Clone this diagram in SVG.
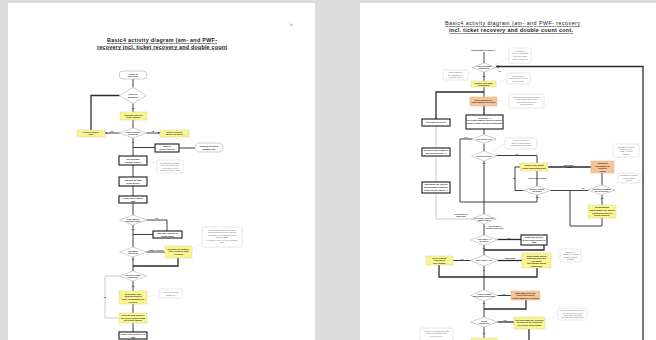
<svg xmlns="http://www.w3.org/2000/svg" width="656" height="340" viewBox="0 0 656 340">
  <style>
    .bg{fill:#dcdcdc}
    .page{fill:#ffffff}
    .act{fill:#ffffff;stroke:#1a1a1a;stroke-width:1.1}
    .yel{fill:#fbf590;stroke:#d8d39a;stroke-width:0.5}
    .org{fill:#f8c599;stroke:#e0b08a;stroke-width:0.5}
    .dec{fill:#ffffff;stroke:#a0a0a0;stroke-width:0.5}
    .note{fill:#ffffff;stroke:#cfcfcf;stroke-width:0.5}
    .term{fill:#ffffff;stroke:#9a9a9a;stroke-width:0.5}
    .ln{fill:none;stroke:#2a2a2a;stroke-width:0.9}
    .bold{fill:none;stroke:#2a2a2a;stroke-width:1.3}
    .thin{fill:none;stroke:#a8a8a8;stroke-width:0.6}
    .dash{fill:none;stroke:#c4c4c4;stroke-width:0.4;stroke-dasharray:1 0.8}
    text{font-family:"Liberation Sans",Arial,sans-serif;fill:#222}
    .t{font-size:2.2px;text-anchor:middle;font-weight:bold;fill:#1a1a1a}
    .tn{font-size:1.9px;text-anchor:middle;fill:#666}
    .lb{font-size:1.9px;text-anchor:middle;fill:#222;font-weight:bold}
    .title{font-size:5.4px;text-anchor:middle;text-decoration:underline;fill:#1a1a1a}
  </style>
  <defs>
    <marker id="ah" viewBox="0 0 6 6" refX="5.5" refY="3" markerWidth="2.2" markerHeight="2.2" orient="auto">
      <path d="M0,0 L6,3 L0,6 z" fill="#2a2a2a"/>
    </marker>
  </defs>

  <!-- background and the two sheets -->
  <rect class="bg" x="0" y="0" width="656" height="340"/>
  <rect class="page" x="8" y="3" width="307" height="337"/>
  <rect class="page" x="360" y="3" width="296" height="337"/>

  <!-- ===== sheet 1 ===== -->
  <text x="290" y="26" style="font-size:3px;fill:#555">lu</text>
  <text class="title" x="162" y="42" textLength="110" font-weight="bold">Basic4 activity diagram (am- and PWF-</text>
  <text class="title" x="162" y="48.5" textLength="130" font-weight="bold">recovery incl. ticket recovery and double count</text>

  <g id="connectors-1">
    <path class="ln" d="M133,79 V87.5"/>
    <path class="ln" d="M133,103.5 V112"/>
    <path class="ln" d="M133,120 V128"/>
    <path class="bold" d="M119.5,95.5 H91 V130"/>
    <path class="ln" d="M119.5,133 H105" marker-end="url(#ah)"/>
    <path class="ln" d="M146.5,133 H160" marker-end="url(#ah)"/>
    <path class="ln" d="M133,138 V156"/>
    <path class="ln" d="M133,147.5 H155"/>
    <path class="ln" d="M179,148 H195"/>
    <path class="ln" d="M133,165 V177"/>
    <path class="ln" d="M133,186 V196"/>
    <path class="ln" d="M133,203 V215"/>
    <path class="ln" d="M146.5,220 H167 V231"/>
    <path class="ln" d="M153,234.5 H133"/>
    <path class="ln" d="M133,225 V247"/>
    <path class="ln" d="M146.5,252 H165"/>
    <path class="bold" d="M178,258 V266 H133"/>
    <path class="ln" d="M133,257 V271"/>
    <path class="thin" d="M119.5,276 H105 V318 H119"/>
    <path class="ln" d="M133,281 V291"/>
    <path class="ln" d="M133,304 V313"/>
    <path class="ln" d="M133,323 V340"/>
    <path class="dash" d="M147,162 L157,163"/>
    <path class="dash" d="M192,250 L202,243"/>
    <path class="dash" d="M147,297 L159,294"/>
  </g>

  <g id="s1-start"><rect class="term" x="119" y="71" width="28" height="8" rx="4"/><text class="t" x="133" y="74.6">Pause at</text><text class="t" x="133" y="77.4">start state</text></g>
  <g id="s1-d1"><polygon class="dec" points="133,87.5 146.5,95.5 133,103.5 119.5,95.5"/><text class="t" x="133" y="95">Ticket ctr</text><text class="t" x="133" y="97.6">available?</text></g>
  <text class="lb" x="133" y="108.5">yes</text>
  <g id="s1-y1"><rect class="yel" x="120" y="112" width="27" height="8"/><text class="t" x="133.5" y="115.5">Request recovery</text><text class="t" x="133.5" y="118.2">ticket number</text></g>
  <g id="s1-d2"><polygon class="dec" points="133,128 146.5,133 133,138 119.5,133"/><text class="t" x="133" y="132.6">Ticket number</text><text class="t" x="133" y="135">received?</text></g>
  <text class="lb" x="112" y="131.5">yes</text>
  <text class="lb" x="153" y="132.3">no</text>
  <g id="s1-y2"><rect class="yel" x="77" y="130" width="28" height="7"/><text class="t" x="91" y="132.9">Ticket recovery</text><text class="t" x="91" y="135.4">done</text></g>
  <g id="s1-y3"><rect class="yel" x="160" y="130" width="29" height="7"/><text class="t" x="174.5" y="132.9">Ticket recovery</text><text class="t" x="174.5" y="135.4">failed (no ticket)</text></g>
  <text class="lb" x="133" y="142.5">no</text>
  <g id="s1-b1"><rect class="act" x="155" y="144" width="24" height="8"/><text class="t" x="167" y="147.3">Wait for</text><text class="t" x="167" y="150">ticket recovery</text></g>
  <g id="s1-t1"><rect class="term" x="195" y="143" width="28" height="9" rx="4.5"/><text class="t" x="209" y="147">Start am-recovery</text><text class="t" x="209" y="149.8">without PWF</text></g>
  <g id="s1-a1"><rect class="act" x="119" y="156" width="28" height="9"/><text class="t" x="133" y="159.9">Set message</text><text class="t" x="133" y="162.6">counter (ticket)</text></g>
  <g id="s1-n1"><rect class="note" x="157" y="160" width="26" height="13" rx="1.5"/><text class="tn" x="170" y="163.5">The message counter is</text><text class="tn" x="170" y="166">set to the ticket value</text><text class="tn" x="170" y="168.5">of the last received</text><text class="tn" x="170" y="171">message before restart</text></g>
  <g id="s1-a2"><rect class="act" x="119" y="177" width="28" height="9"/><text class="t" x="133" y="180.9">Initialise all data</text><text class="t" x="133" y="183.6">of the device</text></g>
  <g id="s1-a3"><rect class="act" x="119" y="196" width="28" height="7"/><text class="t" x="133" y="199">Send PWF request</text><text class="t" x="133" y="201.5">(am)</text></g>
  <g id="s1-d3"><polygon class="dec" points="133,215 146.5,220 133,225 119.5,220"/><text class="t" x="133" y="219.5">PWF data in</text><text class="t" x="133" y="222">system ready?</text></g>
  <text class="lb" x="157" y="219.3">no</text>
  <text class="lb" x="133" y="229.6">yes</text>
  <g id="s1-b2"><rect class="act" x="153" y="231" width="29" height="7"/><text class="t" x="167.5" y="234">Set PWF request to</text><text class="t" x="167.5" y="236.5">repeat mode</text></g>
  <g id="s1-d4"><polygon class="dec" points="133,247 146.5,252 133,257 119.5,252"/><text class="t" x="133" y="251.5">Message</text><text class="t" x="133" y="254">received?</text></g>
  <text class="lb" x="156" y="251.3">answer received</text>
  <g id="s1-y4"><rect class="yel" x="165" y="246" width="27" height="12"/><text class="t" x="178.5" y="249.5">Evaluate the answer;</text><text class="t" x="178.5" y="252.2">save recovery data</text><text class="t" x="178.5" y="254.9">in device</text></g>
  <g id="s1-n2"><rect class="note" x="202" y="227" width="40" height="20" rx="2"/><text class="tn" x="222" y="230.5">The answered data are checked</text><text class="tn" x="222" y="233">and applied to the device after the</text><text class="tn" x="222" y="235.5">consistency and plausibility check</text><text class="tn" x="222" y="238">was successful.</text><text class="tn" x="222" y="240.5">All objects in PWF/AM, also temporary</text><text class="tn" x="222" y="243">data.</text></g>
  <text class="lb" x="133" y="260.3">no</text>
  <g id="s1-d5"><polygon class="dec" points="133,271 146.5,276 133,281 119.5,276"/><text class="t" x="133" y="275.5">Recovery data</text><text class="t" x="133" y="278">complete?</text></g>
  <text class="lb" x="105" y="297.5">no</text>
  <text class="lb" x="133" y="286.5">yes</text>
  <g id="s1-y5"><rect class="yel" x="119" y="291" width="28" height="13"/><text class="t" x="133" y="294.5">Determine next</text><text class="t" x="133" y="297">valid ticketing in</text><text class="t" x="133" y="299.5">PWF/AM database for</text><text class="t" x="133" y="302.5">recovery</text></g>
  <g id="s1-n3"><rect class="note" x="159" y="289" width="23" height="9" rx="1.5"/><text class="tn" x="170.5" y="292.8">Collect recovered</text><text class="tn" x="170.5" y="295.5">parameters</text></g>
  <g id="s1-y6"><rect class="yel" x="119" y="313" width="28" height="10"/><text class="t" x="133" y="316">Process data found in</text><text class="t" x="133" y="318.5">the ticket recovery and</text><text class="t" x="133" y="321">the count ranges</text></g>
  <g id="s1-a4"><rect class="act" x="119" y="332" width="28" height="7"/><text class="t" x="133" y="335">Finish PWF recovery for</text><text class="t" x="133" y="337.5">(am)</text></g>

  <!-- ===== sheet 2 ===== -->
  <text class="title" x="512.5" y="25" textLength="135">Basic4 activity diagram (am- and PWF- recovery</text>
  <text class="title" x="511" y="32" textLength="124" font-weight="bold">incl. ticket recovery and double count cont.</text>

  <g id="connectors-2">
    <path class="ln" d="M484,52 V63"/>
    <path class="bold" d="M643,340 V66.5 H496" marker-end="url(#ah)"/>
    <path class="ln" d="M484,72 V81"/>
    <path class="ln" d="M484,87 V97"/>
    <path class="bold" d="M484,92 H436 V119"/>
    <path class="thin" d="M436,126 V148 M436,156 V182 M436,193 V219 H471.5"/>
    <path class="bold" d="M484,106 V115"/>
    <path class="ln" d="M484,129 V134.5"/>
    <path class="ln" d="M472,139 H460 V202 H537"/>
    <path class="ln" d="M484,143.5 V151"/>
    <path class="ln" d="M496.5,155.5 H537 V163"/>
    <path class="ln" d="M484,161 V214"/>
    <path class="bold" d="M548,167 H591"/>
    <path class="ln" d="M520,167 H515 V190.5 H523.5"/>
    <path class="ln" d="M537,171 V186"/>
    <path class="ln" d="M537,195 V202"/>
    <path class="ln" d="M550.5,190.5 H588"/>
    <path class="ln" d="M570,190.5 V226 H602 V218"/>
    <path class="ln" d="M602,173 V185"/>
    <path class="ln" d="M602,195 V205"/>
    <path class="ln" d="M484,224 V235"/>
    <path class="bold" d="M497.5,239.5 H521"/>
    <path class="bold" d="M544,245 V250 H484"/>
    <path class="ln" d="M484,245 V255"/>
    <path class="ln" d="M470.5,260.5 H453"/>
    <path class="bold" d="M497.5,260.5 H522"/>
    <path class="bold" d="M439,265 V277 H537 V268"/>
    <path class="ln" d="M484,266 V290"/>
    <path class="ln" d="M497.5,295.5 H511"/>
    <path class="bold" d="M526,300 V309 H484"/>
    <path class="ln" d="M484,301 V317"/>
    <path class="bold" d="M497.5,322 H514"/>
    <path class="bold" d="M529,329 V340"/>
    <path class="ln" d="M484,327 V338"/>
    <path class="dash" d="M509,58 L494,65"/>
    <path class="dash" d="M468,75 L474,69"/>
    <path class="dash" d="M507,79 L496,84"/>
    <path class="dash" d="M509,101 L497,101"/>
    <path class="dash" d="M505,143 L493,152"/>
    <path class="dash" d="M620,157 L612,161"/>
    <path class="dash" d="M620,180 L612,187"/>
    <path class="dash" d="M560,257 L551,259"/>
    <path class="dash" d="M558,315 L545,320"/>
  </g>

  <text x="483" y="50.5" class="t">continuation of page 3</text>
  <g id="s2-n1"><rect class="note" x="509" y="48" width="22" height="15" rx="1.5"/><text class="tn" x="520" y="51.5">Evaluation</text><text class="tn" x="520" y="54.2">PWF/AM data from</text><text class="tn" x="520" y="56.9">device to central</text><text class="tn" x="520" y="59.6">location during poll</text></g>
  <g id="s2-d1"><polygon class="dec" points="484,63 496,67.5 484,72 472,67.5"/><text class="t" x="484" y="67">PWF/AM data</text><text class="t" x="484" y="69.4">complete?</text></g>
  <text class="lb" x="500" y="72.3">no</text>
  <g id="s2-n2"><rect class="note" x="443" y="70" width="25" height="10" rx="1.5"/><text class="tn" x="455.5" y="73.4">Was condition in</text><text class="tn" x="455.5" y="75.8">the past/since on</text><text class="tn" x="455.5" y="78.2">previous PWF?</text></g>
  <text class="lb" x="484" y="77">yes</text>
  <g id="s2-y1"><rect class="yel" x="471" y="81" width="25" height="6"/><text class="t" x="483.5" y="83.6">Supply PWF data</text><text class="t" x="483.5" y="85.9">(temporary)</text></g>
  <g id="s2-n3"><rect class="note" x="507" y="73" width="23" height="11" rx="1.5"/><text class="tn" x="518.5" y="76.5">The temporary</text><text class="tn" x="518.5" y="79">values are after PWF</text><text class="tn" x="518.5" y="81.5">deleted again</text></g>
  <g id="s2-o1"><rect class="org" x="470" y="97" width="27" height="9"/><text class="t" x="483.5" y="100.8">Determination of</text><text class="t" x="483.5" y="103.4">count ranges per ticket</text></g>
  <g id="s2-n4"><rect class="note" x="509" y="94" width="35" height="14" rx="1.5"/><text class="tn" x="526.5" y="97.5">Evaluation of potential tickets for</text><text class="tn" x="526.5" y="100">double count. Basic of the</text><text class="tn" x="526.5" y="102.5">evaluation of range see</text><text class="tn" x="526.5" y="105">documentation</text></g>
  <g id="s2-b1"><rect class="act" x="466" y="115" width="37" height="14"/><text class="t" x="484.5" y="118.6">Ack ticket = 1</text><text class="t" x="484.5" y="121.4">Set count ranges, ticket recovery,</text><text class="t" x="484.5" y="124.2">double count detection (doubling)</text></g>
  <g id="s2-l1"><rect class="act" x="422" y="119" width="28" height="7"/><text class="t" x="436" y="123.2">Increment ticket ctr</text></g>
  <g id="s2-l2"><rect class="act" x="422" y="148" width="28" height="8"/><text class="t" x="436" y="151.3">Set ack ticket to state n</text><text class="t" x="436" y="154">and ack ticket ctr + 1</text></g>
  <g id="s2-l3"><rect class="act" x="422" y="182" width="28" height="11"/><text class="t" x="436" y="185.4">Determine the current</text><text class="t" x="436" y="188">ticket number from the</text><text class="t" x="436" y="190.6">ticket ctr and count + 1</text></g>
  <g id="s2-d2"><polygon class="dec" points="484,134.5 496,139 484,143.5 472,139"/><text class="t" x="484" y="139.7">ack ticket &gt; 0?</text></g>
  <text class="lb" x="466" y="137.5">yes</text>
  <g id="s2-n5"><rect class="note" x="505" y="138" width="32" height="11" rx="1.5"/><text class="tn" x="521" y="141.4">A ticket is critical if a</text><text class="tn" x="521" y="143.9">object to actual defined</text><text class="tn" x="521" y="146.4">registered in ticket range</text></g>
  <g id="s2-d3"><polygon class="dec" points="484,151 496.5,156 484,161 471.5,156"/><text class="t" x="484" y="156.7">Ticket critical?</text></g>
  <text class="lb" x="517" y="154.5">no</text>
  <text class="lb" x="484" y="164">yes</text>
  <g id="s2-y2"><rect class="yel" x="520" y="163" width="28" height="8"/><text class="t" x="534" y="166.3">Count in the actual</text><text class="t" x="534" y="169">count ranges/doubling</text></g>
  <text class="lb" x="569" y="165.8">Move/Basic</text><text class="lb" x="569" y="168">count</text>
  <text class="lb" x="513.8" y="179">no</text>
  <text class="lb" x="537" y="179">Count values found</text>
  <g id="s2-o2"><rect class="org" x="591" y="161" width="23" height="12"/><text class="t" x="602.5" y="164.4">Doubling</text><text class="t" x="602.5" y="166.8">calculation for</text><text class="t" x="602.5" y="169.2">recovery</text><text class="t" x="602.5" y="171.6">count</text></g>
  <g id="s2-n6"><rect class="note" x="613" y="144" width="26" height="13" rx="1.5"/><text class="tn" x="626" y="147.6">Calculated values in</text><text class="tn" x="626" y="150">ticket recovery</text><text class="tn" x="626" y="152.4">count + count n</text><text class="tn" x="626" y="154.8">doubled</text></g>
  <g id="s2-d4"><polygon class="dec" points="537,186 550.5,190.5 537,195 523.5,190.5"/><text class="t" x="537" y="190">Double count</text><text class="t" x="537" y="192.4">needed?</text></g>
  <text class="lb" x="537" y="198">yes</text>
  <text class="lb" x="583" y="189.3">no</text>
  <g id="s2-d5"><polygon class="dec" points="601.5,185 615,190 601.5,195 588,190"/><text class="t" x="601.5" y="189.5">Counting stopped</text><text class="t" x="601.5" y="191.9">on recovery?</text></g>
  <g id="s2-n7"><rect class="note" x="618" y="173" width="22" height="10" rx="1.5"/><text class="tn" x="629" y="176.4">Operation in recovery</text><text class="tn" x="629" y="178.8">is not counting</text><text class="tn" x="629" y="181.2">counter</text></g>
  <text class="lb" x="602" y="198.5">yes</text>
  <g id="s2-y3"><rect class="yel" x="588" y="205" width="28" height="13"/><text class="t" x="602" y="208.4">Recalculation</text><text class="t" x="602" y="211">ticket number for double</text><text class="t" x="602" y="213.6">count processed in</text><text class="t" x="602" y="216.2">ticket recovery</text></g>
  <g id="s2-d6"><polygon class="dec" points="484,214 496.5,219 484,224 471.5,219"/><text class="t" x="484" y="218.5">Ack ticket (this ack)</text><text class="t" x="484" y="220.9">equal PWF?</text></g>
  <text class="lb" x="461" y="215">ack tickets are</text><text class="lb" x="461" y="217.2">processed</text>
  <text class="lb" x="495" y="226.5">ack tickets of</text><text class="lb" x="495" y="228.7">this ack processed</text>
  <g id="s2-d7"><polygon class="dec" points="484,235 497.5,240 484,245 470.5,240"/><text class="t" x="484" y="239.5">Ack count = 0</text><text class="t" x="484" y="241.9">or error?</text></g>
  <text class="lb" x="509" y="238.8">yes</text>
  <text class="lb" x="484" y="248.5">no</text>
  <g id="s2-b2"><rect class="act" x="521" y="235" width="26" height="10"/><text class="t" x="534" y="238.3">Reset ack tickets</text><text class="t" x="534" y="240.8">to ack count ticket cur</text><text class="t" x="534" y="243.3">data</text></g>
  <g id="s2-d8"><polygon class="dec" points="484,255 497.5,260.5 484,266 470.5,260.5"/><text class="t" x="484" y="261.2">ack count + 1?</text></g>
  <text class="lb" x="462" y="259.8">yes</text>
  <text class="lb" x="510" y="258.8">processing</text><text class="lb" x="510" y="261">next ack</text>
  <g id="s2-y4"><rect class="yel" x="426" y="256" width="27" height="9"/><text class="t" x="439.5" y="258.8">Error reading</text><text class="t" x="439.5" y="261.2">tracking of</text><text class="t" x="439.5" y="263.6">ack counter</text></g>
  <g id="s2-y5"><rect class="yel" x="522" y="253" width="29" height="15"/><text class="t" x="536.5" y="256.5">Total counts stored</text><text class="t" x="536.5" y="259">from ack ticket per</text><text class="t" x="536.5" y="261.5">ack count</text><text class="t" x="536.5" y="264">and flag for export</text><text class="t" x="536.5" y="266.5">completed</text></g>
  <g id="s2-n8"><rect class="note" x="560" y="249" width="21" height="13" rx="1.5"/><text class="tn" x="570.5" y="252.5">Number of</text><text class="tn" x="570.5" y="255">changes of tickets</text><text class="tn" x="570.5" y="257.5">counts recorded</text><text class="tn" x="570.5" y="260">separate</text></g>
  <text class="lb" x="484" y="271">no</text>
  <g id="s2-d9"><polygon class="dec" points="484,290 497.5,295.5 484,301 470.5,295.5"/><text class="t" x="484" y="295">All ack tickets</text><text class="t" x="484" y="297.4">processed correctly?</text></g>
  <text class="lb" x="504" y="294.5">yes</text>
  <g id="s2-o3"><rect class="org" x="511" y="291" width="29" height="9"/><text class="t" x="525.5" y="293.8">Start data record for</text><text class="t" x="525.5" y="296.2">ticket differences</text><text class="t" x="525.5" y="298.6">count ranges for recovery</text></g>
  <text class="lb" x="484" y="304">no</text>
  <g id="s2-d10"><polygon class="dec" points="484,317 497.5,322 484,327 470.5,322"/><text class="t" x="484" y="321.5">Ticket</text><text class="t" x="484" y="323.9">count ok?</text></g>
  <text class="lb" x="505" y="321.3">yes</text>
  <g id="s2-y6"><rect class="yel" x="514" y="317" width="31" height="12"/><text class="t" x="529.5" y="320.5">Set ticket data for recovery</text><text class="t" x="529.5" y="323">at ticket to be recovered</text><text class="t" x="529.5" y="325.5">to recover (ticket data)</text></g>
  <g id="s2-n9"><rect class="note" x="558" y="308" width="29" height="12" rx="1.5"/><text class="tn" x="572.5" y="311.2">This is not the way to correct</text><text class="tn" x="572.5" y="313.5">all values to get correct</text><text class="tn" x="572.5" y="315.8">count data in the ticket</text><text class="tn" x="572.5" y="318.1">ack count and single count</text></g>
  <text class="lb" x="484" y="333.5">no</text>
  <g id="s2-n10"><rect class="note" x="420" y="328" width="33" height="14" rx="1.5"/><text class="tn" x="436.5" y="331.5">In case of PWF/ticketing of the</text><text class="tn" x="436.5" y="334">data of an additional pair</text><text class="tn" x="436.5" y="336.5">for the recovery</text></g>
  <g id="s2-y7"><rect class="yel" x="471" y="338" width="26" height="5"/></g>
</svg>
